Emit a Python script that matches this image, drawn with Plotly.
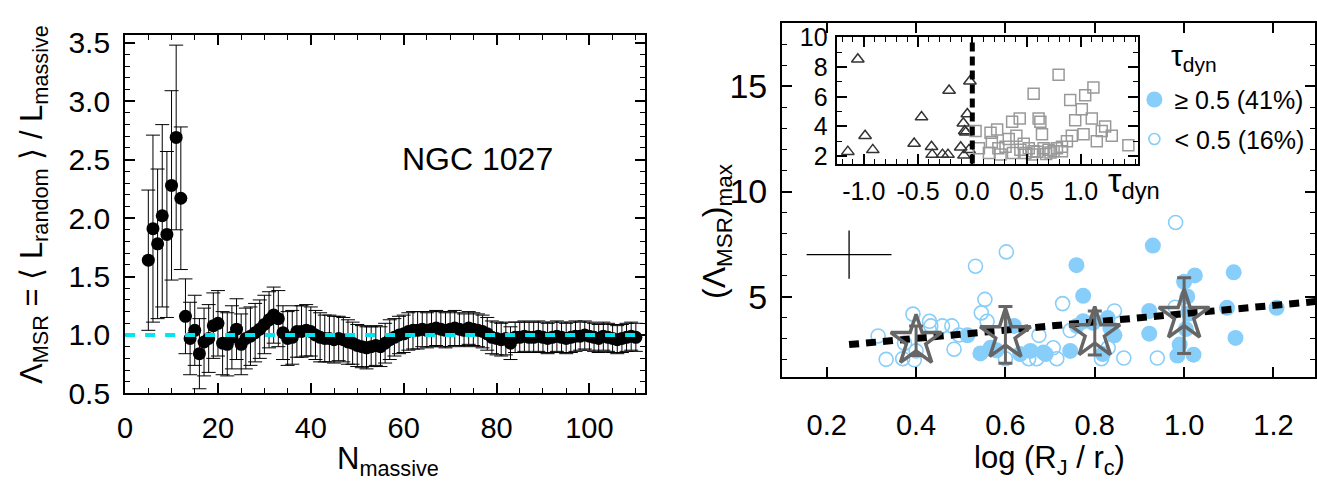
import plotly.graph_objects as go

W, H = 1317, 491
FONT = "Liberation Sans, Arial, Helvetica, sans-serif"

# ---------------- Left panel data ----------------
n_massive = list(range(5, 111))
lambda_msr = [1.64, 1.91, 1.78, 2.02, 1.86, 2.28, 2.69, 2.17, 1.16, 0.97,
              1.04, 0.84, 0.94, 0.97, 1.08, 1.10, 0.93, 0.92, 0.98, 1.05,
              0.92, 0.97, 0.99, 1.02, 1.05, 1.09, 1.13, 1.17, 1.14, 1.02,
              0.97, 0.98, 1.03, 1.03, 1.04, 1.03, 1.00, 0.98, 0.97, 0.97,
              0.96, 0.97, 0.96, 0.94, 0.93, 0.91, 0.90, 0.89, 0.90, 0.91,
              0.90, 0.93, 0.96, 0.98, 1.00, 1.01, 1.03, 1.04, 1.04, 1.05,
              1.04, 1.05, 1.06, 1.05, 1.04, 1.05, 1.06, 1.05, 1.04, 1.06,
              1.05, 1.04, 1.03, 1.01, 0.98, 0.97, 0.96, 0.97, 0.93, 0.98,
              0.98, 0.99, 0.98, 0.98, 0.99, 0.98, 0.97, 0.98, 0.99, 0.98,
              0.97, 0.98, 0.99, 0.99, 1.00, 0.99, 0.98, 0.97, 0.99, 0.98,
              0.97, 0.96, 0.97, 0.98, 0.99, 0.98]
lambda_err = [0.60, 0.80, 0.64, 0.78, 0.71, 0.81, 0.79, 0.61, 0.32, 0.31,
              0.30, 0.30, 0.29, 0.29, 0.28, 0.28, 0.27, 0.27, 0.27, 0.26,
              0.26, 0.26, 0.25, 0.25, 0.25, 0.25, 0.24, 0.24, 0.24, 0.23,
              0.23, 0.23, 0.22, 0.22, 0.22, 0.21, 0.21, 0.21, 0.20, 0.20,
              0.20, 0.19, 0.19, 0.19, 0.18, 0.18, 0.18, 0.18, 0.17, 0.17,
              0.17, 0.17, 0.17, 0.16, 0.16, 0.16, 0.16, 0.16, 0.16, 0.15,
              0.15, 0.15, 0.15, 0.15, 0.15, 0.15, 0.15, 0.14, 0.14, 0.14,
              0.14, 0.14, 0.14, 0.14, 0.14, 0.14, 0.14, 0.14, 0.14, 0.13,
              0.13, 0.13, 0.13, 0.13, 0.13, 0.13, 0.13, 0.13, 0.13, 0.13,
              0.13, 0.13, 0.13, 0.12, 0.12, 0.12, 0.12, 0.12, 0.12, 0.12,
              0.12, 0.12, 0.12, 0.12, 0.12, 0.12]
ref_level = 1.0

# ---------------- Right panel data ----------------
filled_x = [0.515, 0.544, 0.567, 0.619, 0.633, 0.656, 0.685, 0.690, 0.745, 0.759,
            0.760, 0.774, 0.774, 0.796, 0.818, 0.829, 0.844, 0.922, 0.922, 0.930,
            0.985, 0.990, 1.000, 1.004, 1.007, 1.011, 1.021, 1.024, 1.096, 1.111,
            1.115, 1.207, 0.580, 0.835]
filled_y = [3.16, 2.30, 2.57, 3.61, 2.27, 2.42, 2.35, 2.27, 2.42, 6.50,
            3.61, 5.04, 3.83, 3.76, 2.27, 3.98, 3.16, 4.32, 3.24, 7.43,
            2.20, 2.72, 5.71, 3.46, 5.01, 4.20, 2.24, 6.01, 4.47, 6.16,
            3.04, 4.47, 2.45, 3.50]
open_x = [0.315, 0.333, 0.370, 0.396, 0.400, 0.393, 0.430, 0.459, 0.480, 0.485,
          0.533, 0.546, 0.554, 0.559, 0.602, 0.600, 0.652, 0.670, 0.675, 0.707,
          0.715, 0.728, 0.745, 0.815, 0.830, 0.844, 0.865, 0.940, 0.980, 0.981,
          0.374, 0.433, 0.496]
open_y = [3.13, 2.02, 2.05, 2.00, 2.42, 4.17, 3.83, 3.61, 3.61, 2.50,
          6.45, 4.23, 4.87, 3.83, 7.13, 2.05, 2.05, 2.05, 3.16, 2.57,
          2.05, 4.67, 3.39, 2.05, 2.57, 4.32, 2.08, 2.08, 4.50, 8.53,
          2.79, 3.61, 3.18]
star_x = [0.4, 0.6, 0.8, 1.0]
star_y = [2.90, 3.18, 3.27, 4.10]
star_err = [0.70, 1.35, 1.05, 1.80]
fit_x = [0.25, 1.30]
fit_y = [2.72, 4.78]
cross_x = [0.25]
cross_y = [7.0]
cross_ex = [0.095]
cross_ey = [1.15]

# ---------------- Inset data ----------------
tri_x = [-1.147, -1.055, -0.988, -0.917, -0.536, -0.468, -0.376, -0.370, -0.275, -0.224,
         -0.214, -0.107, -0.077, -0.083, -0.070, -0.046, -0.030, -0.022, -0.060]
tri_y = [2.30, 8.53, 3.37, 2.42, 2.85, 4.63, 2.63, 2.10, 2.10, 2.10,
         6.42, 2.60, 2.05, 4.21, 3.69, 4.84, 2.42, 7.05, 3.60]
sq_x = [0.030, 0.061, 0.153, 0.168, 0.229, 0.180, 0.240, 0.260, 0.306, 0.336,
        0.367, 0.375, 0.406, 0.437, 0.443, 0.474, 0.489, 0.520, 0.565, 0.565,
        0.611, 0.627, 0.642, 0.657, 0.703, 0.749, 0.780, 0.826, 0.795, 0.826,
        0.872, 0.902, 0.917, 0.948, 1.009, 1.025, 1.040, 1.101, 1.116, 1.147,
        1.193, 1.224, 1.285, 1.438, 0.550, 0.600, 0.680, 0.720]
sq_y = [3.69, 2.53, 2.21, 3.58, 3.79, 2.95, 2.53, 2.10, 2.63, 3.16,
        4.32, 2.21, 3.37, 4.53, 2.42, 2.84, 2.21, 2.53, 6.21, 2.32,
        4.53, 4.32, 3.47, 2.53, 2.42, 2.32, 2.53, 2.63, 7.48, 2.32,
        3.00, 5.79, 3.37, 4.42, 5.16, 3.47, 6.10, 4.53, 6.63, 3.00,
        3.69, 4.00, 3.37, 2.74, 2.10, 2.30, 2.15, 2.25]
tau_split = 0.0

left_xticks = [0, 20, 40, 60, 80, 100]
left_yticks = [0.5, 1.0, 1.5, 2.0, 2.5, 3.0, 3.5]
right_xticks = [0.2, 0.4, 0.6, 0.8, 1.0, 1.2]
right_yticks = [5, 10, 15]
inset_xticks = [-1.0, -0.5, 0.0, 0.5, 1.0]
inset_xlabels = ["-1.0", "-0.5", "0.0", "0.5", "1.0"]
inset_yticks = [2, 4, 6, 8, 10]

BLUE = "#87CEFA"
STAR = "#666666"

fig = go.Figure()

# Left panel
fig.add_trace(go.Scatter(
    x=n_massive, y=lambda_msr, mode="markers",
    marker=dict(color="black", size=13),
    error_y=dict(type="data", array=lambda_err, color="black", thickness=1, width=7),
    xaxis="x", yaxis="y", showlegend=False))

# Right panel
fig.add_trace(go.Scatter(
    x=open_x, y=open_y, mode="markers",
    marker=dict(symbol="circle-open", color=BLUE, size=14, line=dict(width=1.6, color=BLUE)),
    xaxis="x2", yaxis="y2", showlegend=False))
fig.add_trace(go.Scatter(
    x=filled_x, y=filled_y, mode="markers",
    marker=dict(symbol="circle", color=BLUE, size=16, line=dict(width=0)),
    xaxis="x2", yaxis="y2", showlegend=False))
fig.add_trace(go.Scatter(
    x=fit_x, y=fit_y, mode="lines",
    line=dict(color="black", width=7, dash="10px,7px"),
    xaxis="x2", yaxis="y2", showlegend=False))
fig.add_trace(go.Scatter(
    x=star_x, y=star_y, mode="markers",
    marker=dict(symbol="star-open", size=38, color=STAR, line=dict(width=3.5, color=STAR)),
    error_y=dict(type="data", array=star_err, color=STAR, thickness=3, width=7),
    xaxis="x2", yaxis="y2", showlegend=False))
fig.add_trace(go.Scatter(
    x=cross_x, y=cross_y, mode="markers",
    marker=dict(size=1, color="rgba(0,0,0,0)"),
    error_x=dict(type="data", array=cross_ex, color="black", thickness=1.3, width=0),
    error_y=dict(type="data", array=cross_ey, color="black", thickness=1.3, width=0),
    xaxis="x2", yaxis="y2", showlegend=False))

# Legend entries
fig.add_trace(go.Scatter(
    x=[None], y=[None], mode="markers", name="≥ 0.5 (41%)", legendgroup="a",
    marker=dict(symbol="circle", color=BLUE, size=16),
    xaxis="x2", yaxis="y2", showlegend=True))
fig.add_trace(go.Scatter(
    x=[None], y=[None], mode="markers", name="< 0.5 (16%)", legendgroup="b",
    marker=dict(symbol="circle-open", color=BLUE, size=11, line=dict(width=1.6, color=BLUE)),
    xaxis="x2", yaxis="y2", showlegend=True))

# Inset
fig.add_trace(go.Scatter(
    x=tri_x, y=tri_y, mode="markers",
    marker=dict(symbol="triangle-up-open", size=11, color="#333333", line=dict(width=1.5, color="#333333")),
    xaxis="x3", yaxis="y3", showlegend=False))
fig.add_trace(go.Scatter(
    x=sq_x, y=sq_y, mode="markers",
    marker=dict(symbol="square-open", size=11, color="#999999", line=dict(width=1.5, color="#999999")),
    xaxis="x3", yaxis="y3", showlegend=False))


def ax(domain, rng, tickvals, ticksize, minor_dtick, minor_tick0=None, anchor=None, fmt=None,
       ticktext=None, standoff=6):
    d = dict(domain=domain, range=rng, showline=True, linecolor="black", linewidth=2,
             mirror="ticks", ticks="inside", ticklen=10, tickwidth=1.5, tickcolor="black",
             showgrid=False, zeroline=False, tickvals=tickvals,
             tickfont=dict(family=FONT, size=ticksize, color="black"),
             ticklabelstandoff=standoff,
             minor=dict(ticks="inside", ticklen=5, tickwidth=1, tickcolor="black",
                        dtick=minor_dtick, showgrid=False))
    if minor_tick0 is not None:
        d["minor"]["tick0"] = minor_tick0
    if anchor:
        d["anchor"] = anchor
    if fmt:
        d["tickformat"] = fmt
    if ticktext:
        d["ticktext"] = ticktext
    return d


def dx(p):
    return p / W


def dy(p):
    return 1 - p / H


layout = dict(
    width=W, height=H,
    margin=dict(l=0, r=0, t=0, b=0),
    paper_bgcolor="white", plot_bgcolor="white",
    font=dict(family=FONT, color="black"),
    xaxis=ax([dx(118), dx(642)], [0, 112], left_xticks, 29, 5, 0, anchor="y", standoff=8),
    yaxis=ax([dy(405), dy(22)], [0.5, 3.57], left_yticks, 30, 0.1, 0.5, anchor="x", fmt=".1f", standoff=7),
    xaxis2=ax([dx(780), 1.0], [0.1, 1.293], right_xticks, 29, 0.2, 0.2, anchor="y2", fmt=".1f", standoff=22),
    yaxis2=ax([dy(387), dy(10)], [1.2, 18], right_yticks, 34, 1, 0, anchor="x2", standoff=6),
    xaxis3=ax([dx(835), dx(1139)], [-1.25, 1.53], inset_xticks, 25, 0.1, 0, anchor="y3",
              ticktext=inset_xlabels, standoff=4),
    yaxis3=ax([dy(159.6), dy(25)], [1.5, 10], inset_yticks, 25, 1, 0, anchor="x3", standoff=2),
    legend=dict(x=dx(1135), y=dy(67), xanchor="left", yanchor="top",
                bgcolor="rgba(0,0,0,0)", font=dict(family=FONT, size=25, color="black"),
                itemsizing="trace", tracegroupgap=4),
    showlegend=True,
)
fig.update_layout(**layout)

# Reference lines
fig.add_shape(type="line", xref="x domain", yref="y", x0=0, x1=1, y0=ref_level, y1=ref_level,
              line=dict(color="#00E5F0", width=4, dash="10px,10px"), layer="above")
fig.add_shape(type="line", xref="x3", yref="y3 domain", x0=tau_split, x1=tau_split, y0=0, y1=1,
              line=dict(color="black", width=5, dash="9px,5px"), layer="above")

ann = [
    dict(text="NGC 1027", x=dx(473), y=dy(155), font=dict(size=32)),
    dict(text="N<sub>massive</sub>", x=dx(383), y=dy(477), font=dict(size=31)),
    dict(text="Λ<sub>MSR</sub> = ⟨ L<sub>random</sub> ⟩ / L<sub>massive</sub>", x=dx(26), y=dy(203),
         textangle=-90, font=dict(size=31)),
    dict(text="log (R<sub>J</sub> / r<sub>c</sub>)", x=dx(1049), y=dy(476), font=dict(size=31)),
    dict(text="(Λ<sub>MSR</sub>)<sub>max</sub>", x=dx(714), y=dy(232), textangle=-90, font=dict(size=32)),
    dict(text="τ<sub>dyn</sub>", x=dx(1106), y=dy(180), xanchor="left", font=dict(size=34)),
    dict(text="τ<sub>dyn</sub>", x=dx(1170), y=dy(46), xanchor="left", font=dict(size=30)),
]
for a in ann:
    a.setdefault("xanchor", "center")
    fig.add_annotation(xref="paper", yref="paper", showarrow=False, yanchor="middle",
                       x=a["x"], y=a["y"], text=a["text"], xanchor=a["xanchor"],
                       textangle=a.get("textangle", 0),
                       font=dict(family=FONT, color="black", size=a["font"]["size"]))

fig.write_html("out.html")
